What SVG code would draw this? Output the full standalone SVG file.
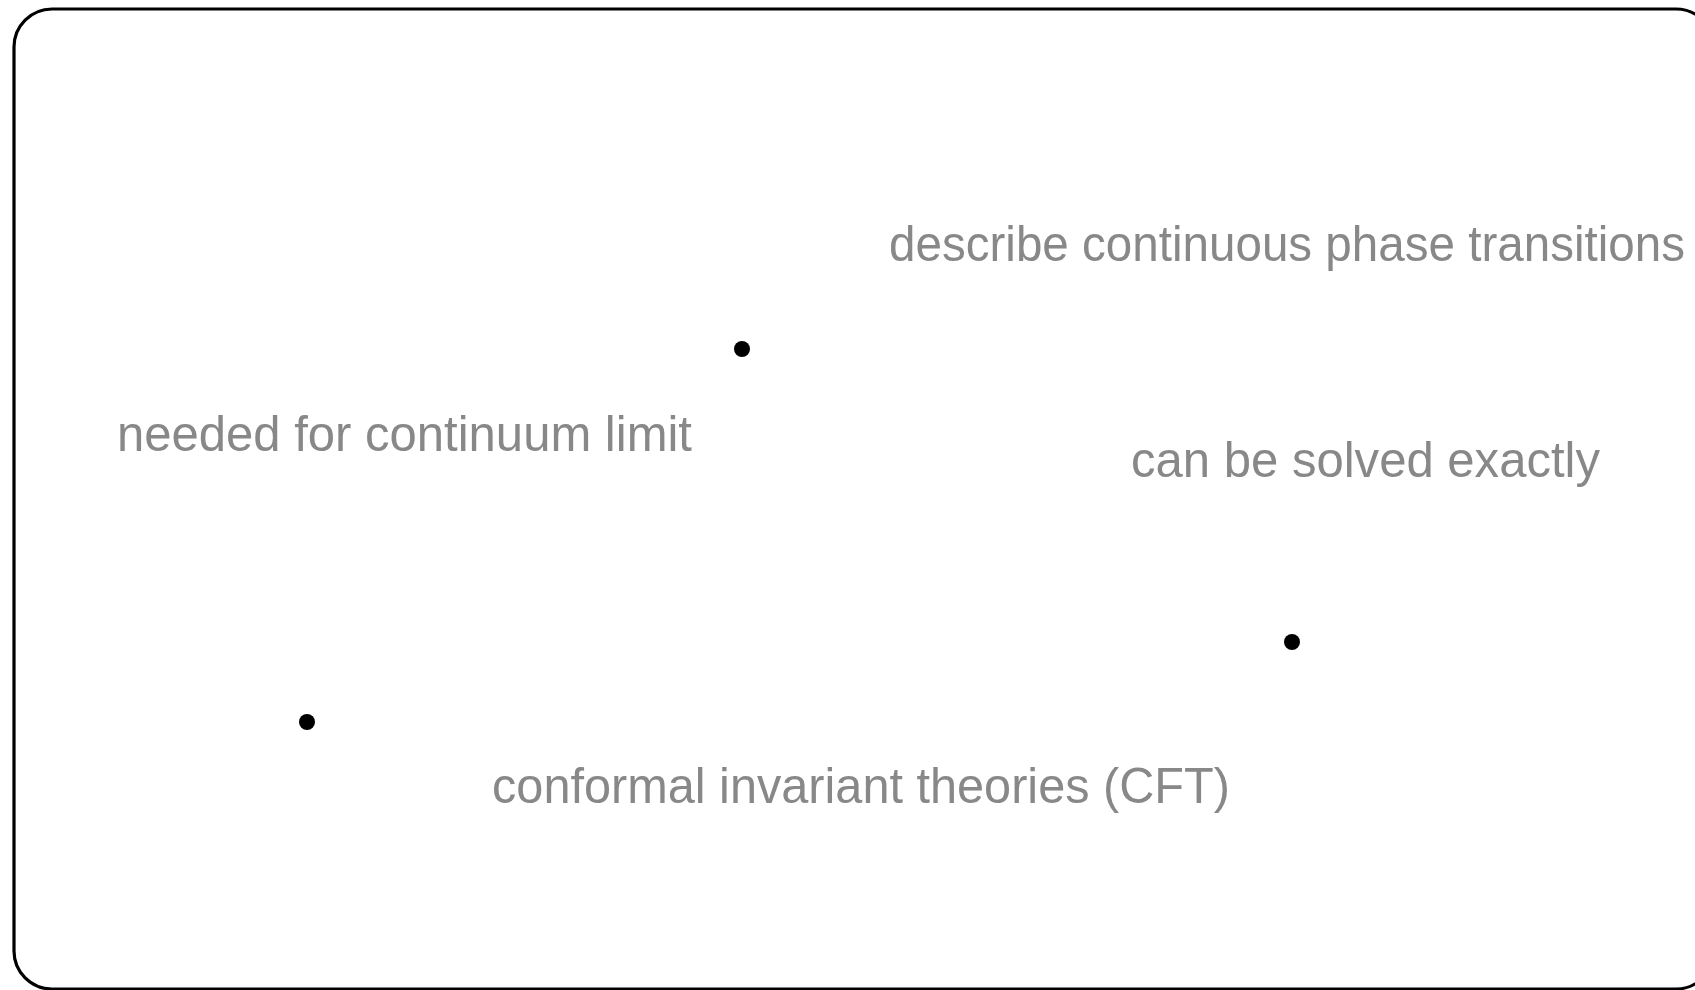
<svg xmlns="http://www.w3.org/2000/svg" width="1695" height="990" viewBox="0 0 1695 990">
<style>
.frame{fill:#ffffff;stroke:#000000;stroke-width:3.2}
.lbl{font-family:"Liberation Sans","DejaVu Sans",sans-serif;font-size:50px;fill:#888888}
.dot{fill:#000000}
</style>
<rect width="1695" height="990" fill="#ffffff"/>
<rect id="frame" class="frame" x="14" y="9" width="1700" height="980" rx="38" ry="38"/>
<g id="label-describe"><text class="lbl" x="889" y="261" textLength="796" lengthAdjust="spacingAndGlyphs">describe continuous phase transitions</text></g>
<g id="label-needed"><text class="lbl" x="117" y="451" textLength="575" lengthAdjust="spacingAndGlyphs">needed for continuum limit</text></g>
<g id="label-solved"><text class="lbl" x="1131" y="477" textLength="469" lengthAdjust="spacingAndGlyphs">can be solved exactly</text></g>
<g id="label-cft"><text class="lbl" x="492" y="803" textLength="738" lengthAdjust="spacingAndGlyphs">conformal invariant theories (CFT)</text></g>
<g id="dot1"><circle class="dot" cx="742" cy="349" r="8"/></g>
<g id="dot2"><circle class="dot" cx="1292" cy="642" r="8"/></g>
<g id="dot3"><circle class="dot" cx="307" cy="722" r="8"/></g>
<g id="connectors"></g>
</svg>
